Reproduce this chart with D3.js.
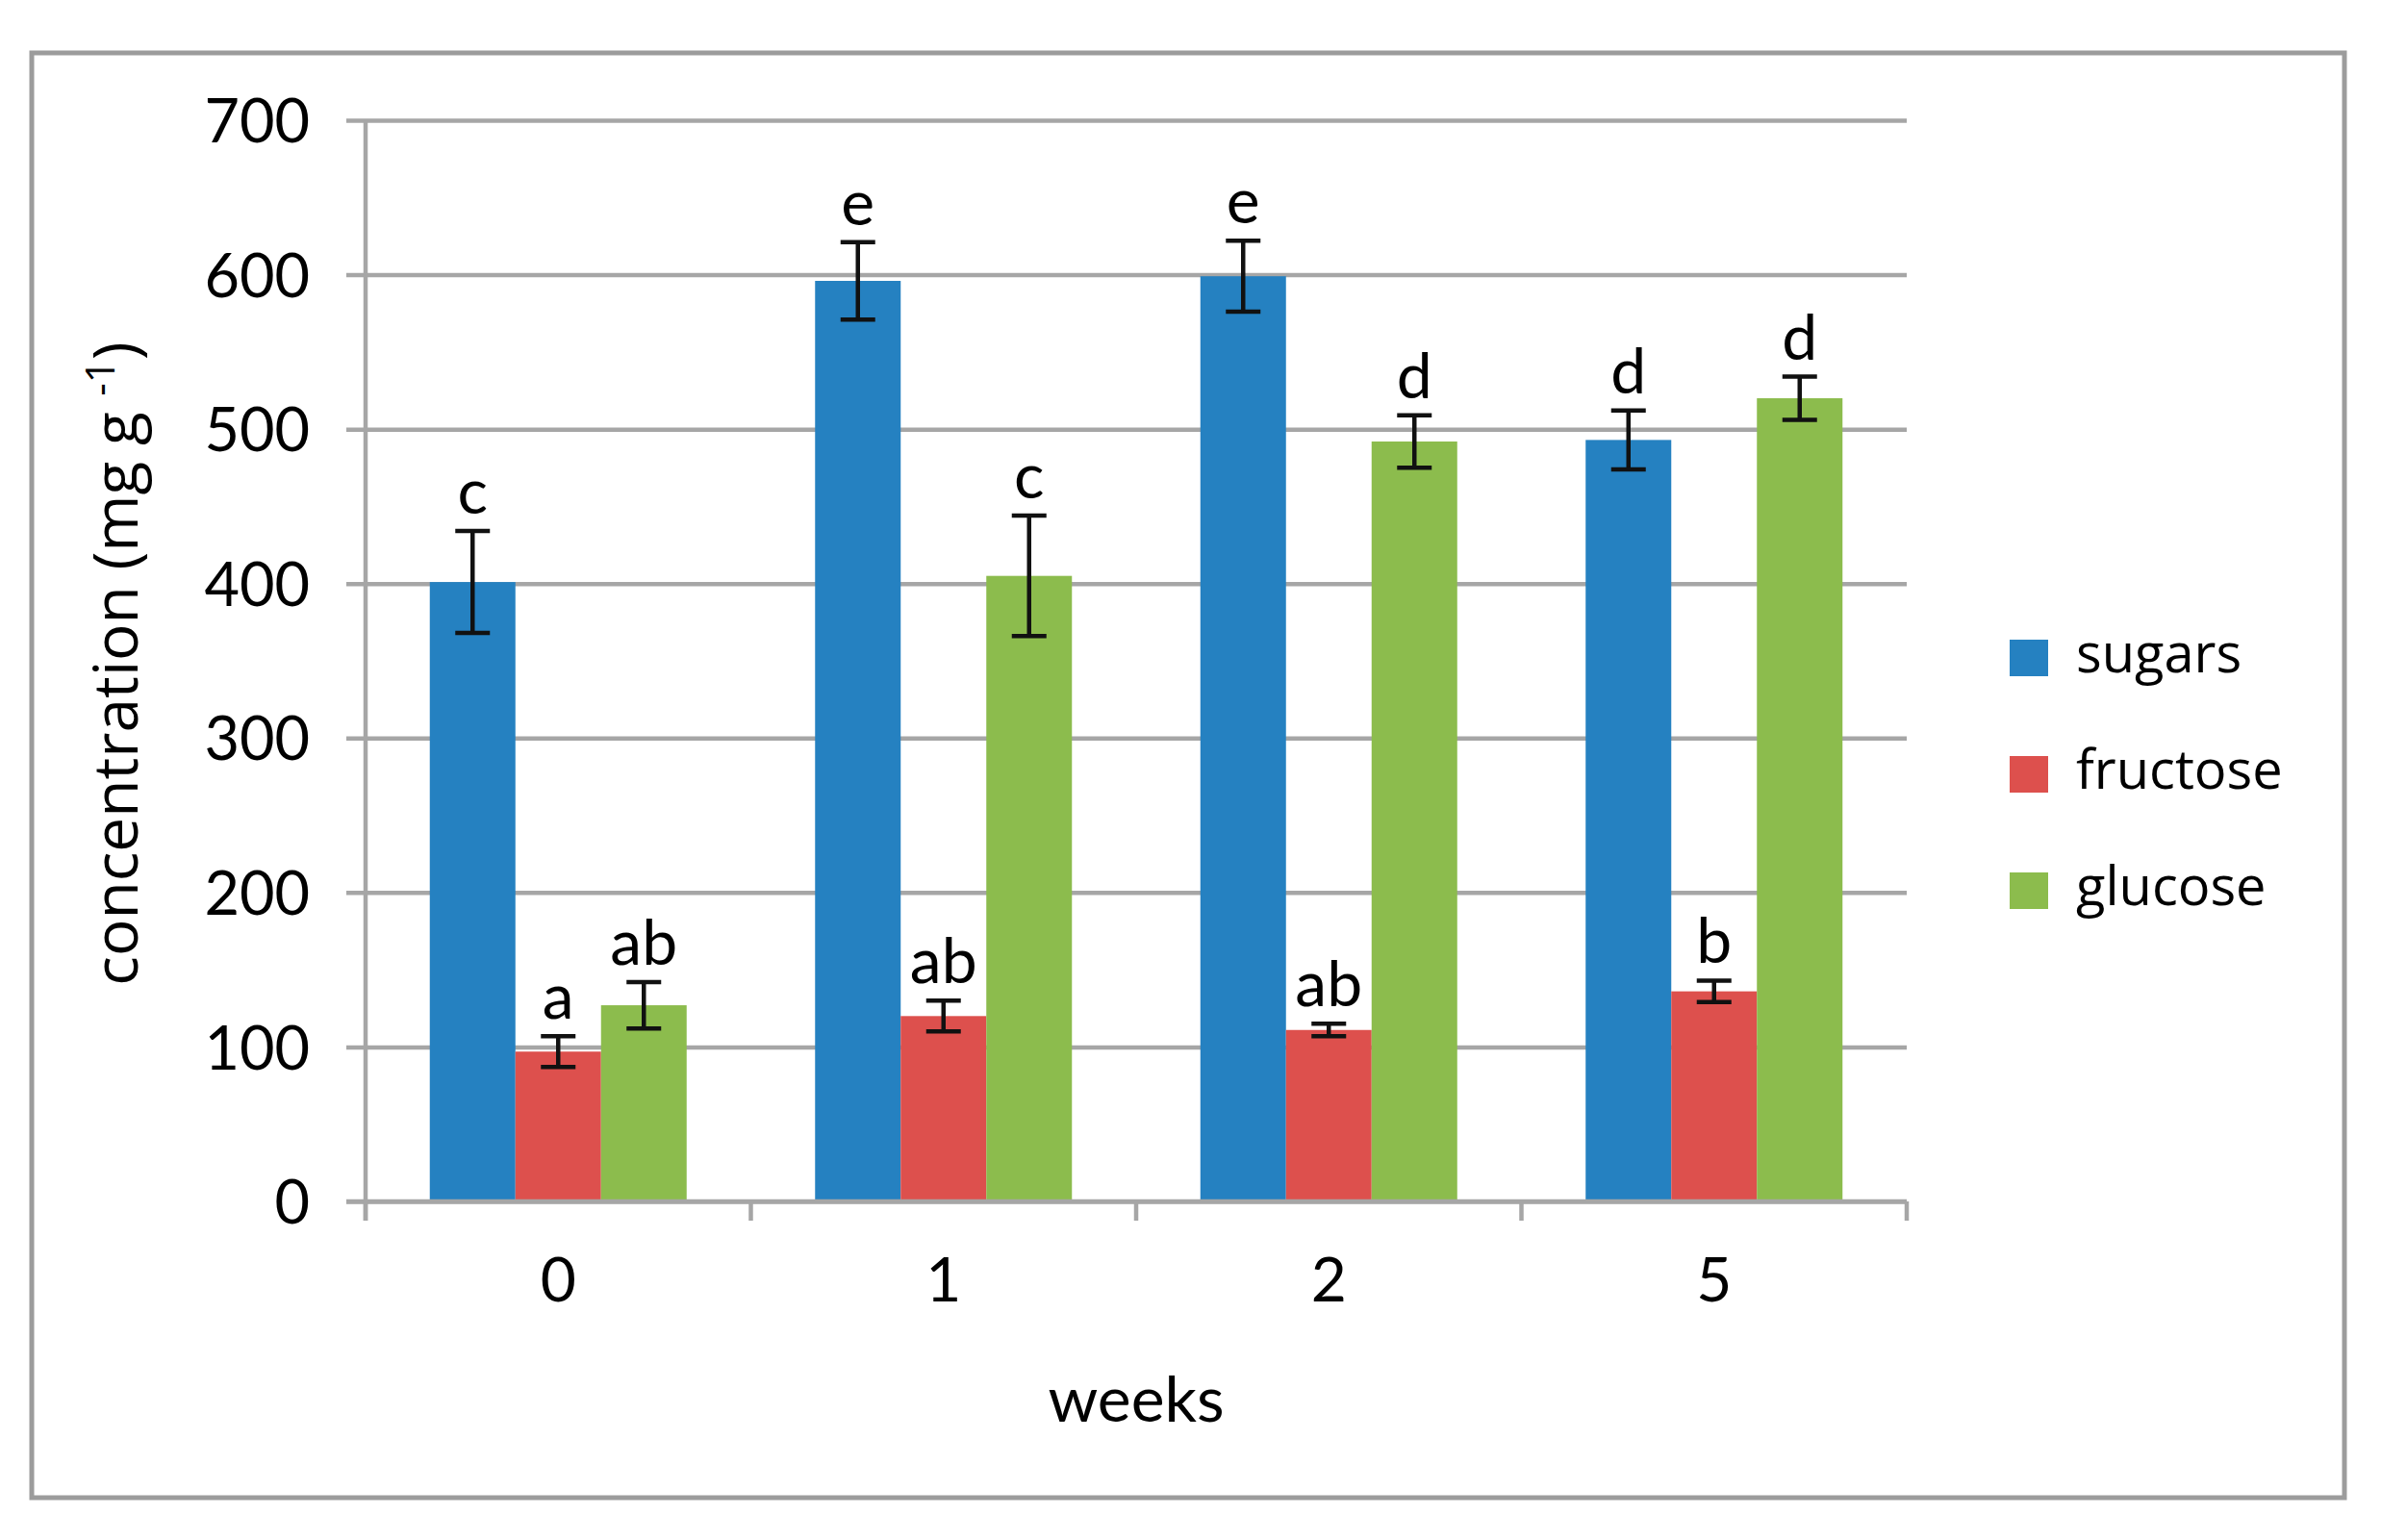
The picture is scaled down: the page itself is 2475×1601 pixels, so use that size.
<!DOCTYPE html>
<html><head><meta charset="utf-8">
<script src="https://cdn.jsdelivr.net/npm/d3@7"></script>
<style>body{margin:0;background:#fff}</style>
</head><body><svg id="c" width="2475" height="1601"></svg>
<script>
const weeks = ["0","1","2","5"];
const seriesNames = ["sugars","fructose","glucose"];
const sugars = [401,596,599,493];
const sugarsErr = [33,25,23,19];
const fructose = [97,120,111,136];
const fructoseErr = [10,10,4,7];
const glucose = [127,405,492,520];
const glucoseErr = [15,39,17,14];
const sugarsLetters = ["c","e","e","d"];
const fructoseLetters = ["a","ab","ab","b"];
const glucoseLetters = ["ab","c","d","d"];
const yTicks = [0,100,200,300,400,500,600,700];
const colors = ["#2581c1","#dd504d","#8cbc4d"];

const values = [sugars, fructose, glucose];
const errs = [sugarsErr, fructoseErr, glucoseErr];
const letters = [sugarsLetters, fructoseLetters, glucoseLetters];

const svg = d3.select("#c");
svg.append("rect").attr("width",2475).attr("height",1601).attr("fill","#fff");
svg.append("rect").attr("x",33).attr("y",55).attr("width",2404).attr("height",1502)
  .attr("fill","none").attr("stroke","#9c9c9c").attr("stroke-width",5);

const L = 380, R = 1982, T = 125, B = 1249;
const x0 = d3.scaleBand().domain(weeks).range([L,R]).paddingInner(0).paddingOuter(0);
const x1 = d3.scaleBand().domain(seriesNames).range([0,x0.bandwidth()]).paddingInner(0).paddingOuter(0.75);
const y = d3.scaleLinear().domain([0,700]).range([B,T]);
const color = d3.scaleOrdinal().domain(seriesNames).range(colors);

const gridC = "#a6a6a6";
const numFont = "Lato, 'Open Sans', sans-serif";
// y axis with gridlines
const gy = svg.append("g").attr("transform",`translate(${L-20},0)`)
  .call(d3.axisLeft(y).tickValues(yTicks).tickSize(-(R-L+20)).tickPadding(38));
gy.select(".domain").remove();
gy.selectAll(".tick line").attr("stroke",gridC).attr("stroke-width",4.5);
gy.selectAll(".tick text").attr("font-family",numFont)
  .attr("font-size",63).attr("fill","#000").attr("dy","0.36em");
// y axis line
svg.append("line").attr("x1",L).attr("x2",L).attr("y1",y(700)).attr("y2",B+20)
  .attr("stroke",gridC).attr("stroke-width",4.5);

// x axis
const gx = svg.append("g").attr("transform",`translate(0,${B})`)
  .call(d3.axisBottom(x0).tickSize(0).tickPadding(0));
gx.select(".domain").remove();
gx.selectAll(".tick text").attr("font-family",numFont)
  .attr("font-size",64).attr("fill","#000").attr("y",104).attr("dy","0");
const bounds = [x0.range()[0]].concat(weeks.map(w => x0(w)+x0.bandwidth()));
svg.append("g").selectAll("line").data(bounds).join("line")
  .attr("x1",d=>d).attr("x2",d=>d).attr("y1",B).attr("y2",B+20)
  .attr("stroke",gridC).attr("stroke-width",4.5);

// bars
const rows = [];
weeks.forEach((w,i) => seriesNames.forEach((s,j) => rows.push({w, s, v: values[j][i], e: errs[j][i], l: letters[j][i]})));
const g = svg.append("g");
g.selectAll("rect").data(rows).join("rect")
  .attr("x",d=>x0(d.w)+x1(d.s)).attr("width",x1.bandwidth())
  .attr("y",d=>y(d.v)).attr("height",d=>B-y(d.v)).attr("fill",d=>color(d.s));

// x axis line over bars
svg.append("line").attr("x1",L-20).attr("x2",R).attr("y1",B).attr("y2",B)
  .attr("stroke",gridC).attr("stroke-width",4.5);

// error bars
const cx = d => x0(d.w)+x1(d.s)+x1.bandwidth()/2;
const eg = svg.append("g").attr("stroke","#111").attr("stroke-width",4.5);
eg.selectAll("line.v").data(rows).join("line").attr("class","v")
  .attr("x1",cx).attr("x2",cx).attr("y1",d=>y(d.v+d.e)).attr("y2",d=>y(d.v-d.e));
eg.selectAll("line.t").data(rows).join("line").attr("class","t")
  .attr("x1",d=>cx(d)-18).attr("x2",d=>cx(d)+18).attr("y1",d=>y(d.v+d.e)).attr("y2",d=>y(d.v+d.e));
eg.selectAll("line.b").data(rows).join("line").attr("class","b")
  .attr("x1",d=>cx(d)-18).attr("x2",d=>cx(d)+18).attr("y1",d=>y(d.v-d.e)).attr("y2",d=>y(d.v-d.e));

// letters
svg.append("g").selectAll("text").data(rows).join("text")
  .attr("x",cx).attr("y",d=>y(d.v+d.e)-18).attr("text-anchor","middle")
  .attr("font-family",numFont).attr("font-size",66).attr("fill","#000")
  .text(d=>d.l);

// axis titles
svg.append("text").attr("x",(L+R)/2).attr("y",1478).attr("text-anchor","middle")
  .attr("font-family",numFont).attr("font-size",66).attr("fill","#000").text("weeks");
const yt = svg.append("text").attr("transform","translate(143,690) rotate(-90)").attr("text-anchor","middle")
  .attr("font-family","'Open Sans', sans-serif").attr("font-size",64).attr("fill","#000");
yt.append("tspan").text("concentration (mg g ");
yt.append("tspan").attr("font-size",42).attr("dy",-24).text("-1");
yt.append("tspan").attr("font-size",64).attr("dy",24).text(")");

// legend
const leg = svg.append("g").selectAll("g").data(seriesNames).join("g")
  .attr("transform",(d,i)=>`translate(2089,${684+i*121})`);
leg.append("rect").attr("x",0).attr("y",-19).attr("width",40).attr("height",38).attr("fill",d=>color(d));
leg.append("text").attr("x",69).attr("y",0).attr("dy","0.27em")
  .attr("font-family","'Open Sans', sans-serif").attr("font-size",56).attr("fill","#000").text(d=>d);
</script></body></html>
